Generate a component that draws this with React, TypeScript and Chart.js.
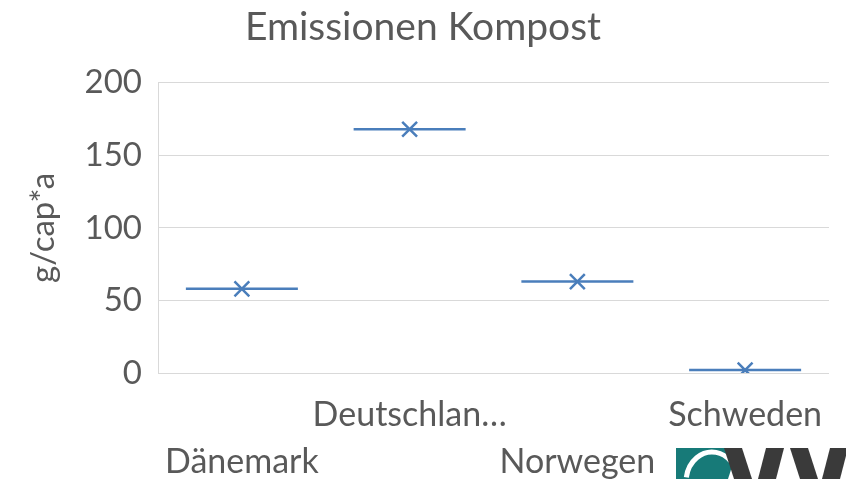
import React, { useEffect, useRef } from "react";
import { Chart, registerables } from "chart.js";

Chart.register(...registerables);

// Emissions from composting, grams per capita per year
const countries = ["Dänemark", "Deutschlan…", "Norwegen", "Schweden"];
const emissions = [58, 168, 63, 2];
const yTicks = [0, 50, 100, 150, 200];

const BLUE = "#4a7ebb";
const TEXT = "#595959";
const GRID = "#d9d9d9";
const FONT = "Lato, 'Open Sans', sans-serif";

// Small organisation logo in the lower right corner
const logoPlugin = {
  id: "cornerLogo",
  afterDraw(chart: Chart) {
    const ctx = chart.ctx;
    ctx.save();
    // teal block with a white arc
    ctx.fillStyle = "#177a78";
    ctx.beginPath();
    ctx.moveTo(676, 448);
    ctx.lineTo(738, 448);
    ctx.lineTo(728, 479);
    ctx.lineTo(676, 479);
    ctx.closePath();
    ctx.fill();
    ctx.strokeStyle = "#ffffff";
    ctx.lineWidth = 5;
    ctx.beginPath();
    ctx.ellipse(712, 482, 26, 30, 0, Math.PI * 1.05, Math.PI * 1.75);
    ctx.stroke();
    // dark slanted letter strokes
    ctx.fillStyle = "#3a3a3a";
    const strokes: [number, number][] = [
      [724, 742],
      [758, 776],
      [790, 808],
      [822, 840],
    ];
    strokes.forEach(([a, b], i) => {
      ctx.beginPath();
      if (i % 2 === 0) {
        ctx.moveTo(a, 448);
        ctx.lineTo(b, 448);
        ctx.lineTo(b + 10, 479);
        ctx.lineTo(a + 10, 479);
      } else {
        ctx.moveTo(a, 479);
        ctx.lineTo(b, 479);
        ctx.lineTo(b + 8, 448);
        ctx.lineTo(a + 8, 448);
      }
      ctx.closePath();
      ctx.fill();
    });
    ctx.restore();
  },
};

export default function App() {
  const canvasRef = useRef<HTMLCanvasElement | null>(null);

  useEffect(() => {
    document.body.style.margin = "0";
    const canvas = canvasRef.current;
    if (!canvas) return;
    const chart = new Chart(canvas, {
      type: "line",
      data: {
        labels: countries,
        datasets: [
          {
            label: "Spanne",
            data: emissions,
            showLine: false,
            pointStyle: "line",
            pointRadius: 56,
            pointHoverRadius: 56,
            pointBorderWidth: 2.5,
            borderColor: BLUE,
            backgroundColor: BLUE,
          },
          {
            label: "Wert",
            data: emissions,
            showLine: false,
            pointStyle: "crossRot",
            pointRadius: 10.5,
            pointHoverRadius: 10.5,
            pointBorderWidth: 2.5,
            borderColor: BLUE,
            backgroundColor: BLUE,
          },
        ],
      },
      options: {
        animation: false,
        responsive: false,
        devicePixelRatio: 1,
        layout: { padding: 0, autoPadding: false },
        plugins: {
          legend: { display: false },
          tooltip: { enabled: false },
          title: {
            display: true,
            text: "Emissionen Kompost",
            color: TEXT,
            font: { family: FONT, size: 39, weight: "normal", lineHeight: 1.2 },
            padding: { top: 4, bottom: 32 },
          },
        },
        scales: {
          x: {
            offset: true,
            grid: { display: false, drawTicks: false, offset: true },
            border: { display: false },
            ticks: {
              autoSkip: false,
              maxRotation: 0,
              minRotation: 0,
              padding: 19,
              color: TEXT,
              font: { family: FONT, size: 34, lineHeight: 1.38 },
              callback: (_v: any, i: number) =>
                i % 2 === 0 ? ["", countries[i]] : [countries[i], ""],
            },
            afterFit: (scale: any) => {
              scale.height = 106;
              scale.paddingLeft = 0;
              scale.paddingRight = 17;
            },
          },
          y: {
            min: 0,
            max: 200,
            afterBuildTicks: (scale: any) => {
              scale.ticks = yTicks.map((v) => ({ value: v }));
            },
            grid: { color: GRID, lineWidth: 1, drawTicks: false },
            border: { display: true, color: GRID, width: 1 },
            ticks: {
              padding: 16,
              color: TEXT,
              font: { family: FONT, size: 33 },
            },
            title: {
              display: true,
              text: "g/cap*a",
              color: TEXT,
              font: { family: FONT, size: 33 },
              padding: { top: 24, bottom: 0 },
            },
            afterFit: (scale: any) => {
              scale.width = 158;
            },
          },
        },
      },
      plugins: [logoPlugin],
    });
    return () => chart.destroy();
  }, []);

  return (
    <div style={{ width: 846, height: 479, background: "#ffffff" }}>
      <canvas ref={canvasRef} width={846} height={479} />
    </div>
  );
}
